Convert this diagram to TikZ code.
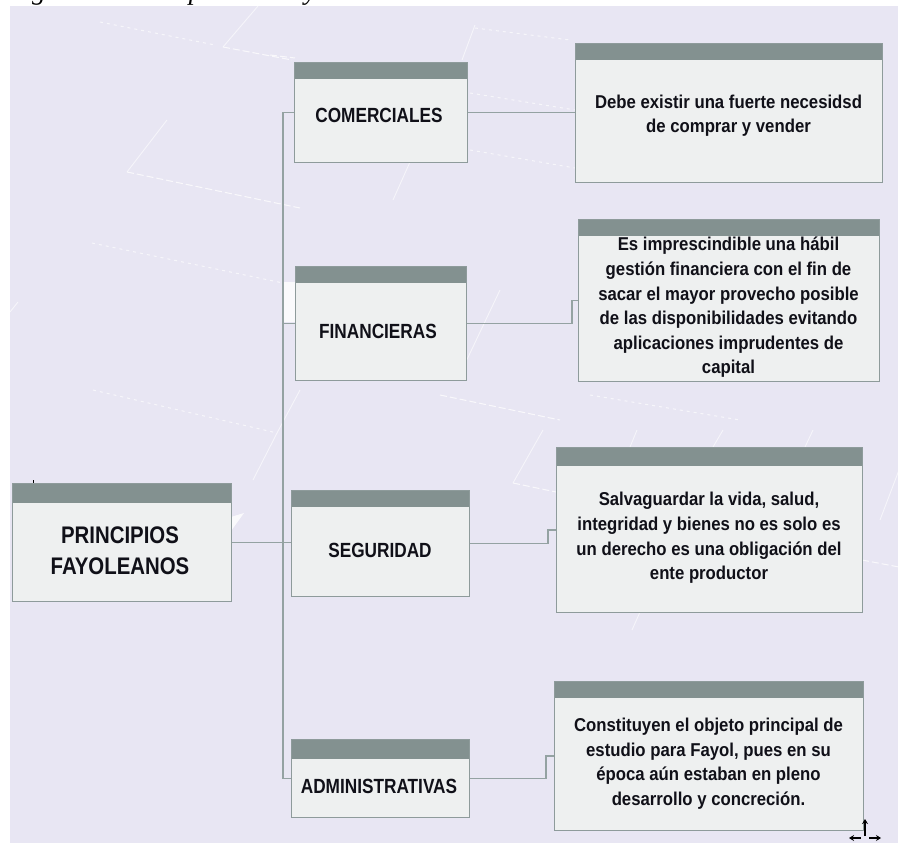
\documentclass[tikz,border=0pt]{standalone}
\usepackage{fontspec}
\setmainfont{Liberation Sans}
\newfontfamily\capfont{Liberation Serif}
\newfontfamily\tallfont{Liberation Sans}[FakeStretch=0.84]
\newfontfamily\titlefont{Liberation Sans}[FakeStretch=0.85]
\newfontfamily\notefont{Liberation Sans}[FakeStretch=0.9]
\usetikzlibrary{calc,arrows.meta}

\definecolor{bgcol}{HTML}{E8E6F3}
\definecolor{bodycol}{HTML}{EEF0F0}
\definecolor{edgecol}{HTML}{8E9B9B}
\definecolor{hdrcol}{HTML}{839190}
\definecolor{linkcol}{HTML}{94A2A2}
\definecolor{inkcol}{HTML}{101018}

\begin{document}
\begin{tikzpicture}[x=1pt,y=-1pt,
  card/.style={rectangle, draw=edgecol, line width=1.4pt, fill=bodycol,
    inner sep=0pt, anchor=north west,
    path picture={\fill[hdrcol] (path picture bounding box.north west)
      rectangle ([yshift=-#1]path picture bounding box.north east);}},
  card/.default=16pt,
  lbl/.style={font=\tallfont\bfseries\fontsize{20.5}{24}\selectfont, text=inkcol, inner sep=0pt},
  bigl/.style={font=\titlefont\bfseries\fontsize{24}{31}\selectfont, text=inkcol, align=center, inner sep=0pt},
  desc/.style={font=\notefont\bfseries\fontsize{18.6}{24.6}\selectfont, text=inkcol, align=center, inner sep=0pt},
  link/.style={draw=linkcol, line width=1.5pt},
  bgdash/.style={white, line width=1pt, opacity=.75, dash pattern=on 7pt off 3pt},
  bgdot/.style={white, line width=1pt, opacity=.65, dash pattern=on 3pt off 4pt},
  bgline/.style={white, line width=.9pt, opacity=.6},
  cursor/.style={-{Stealth[length=5pt,width=6pt]}, line width=1.6pt, black}
]
\useasboundingbox (0,0) rectangle (899,843);

% page and tinted panel
\fill[white] (0,0) rectangle (899,843);
\fill[bgcol] (10,6) rectangle (898,843);

% faint perspective pattern on the panel
\draw[bgline] (258,6) -- (223,47);
\draw[bgdash] (223,47) -- (292,60);
\draw[bgdot] (100,22) -- (215,45);
\draw[bgline] (167,120) -- (127,172);
\draw[bgdash] (127,172) -- (300,208);
\draw[bgdot] (92,243) -- (283,283);
\draw[bgdot] (93,390) -- (277,433);
\draw[bgline] (300,390) -- (277,433) -- (253,480);
\draw[bgline] (10,312) -- (18,302);
\draw[bgdash] (270,55) -- (295,58);
\draw[bgdot] (470,93) -- (575,110);
\draw[bgdot] (470,150) -- (575,168);
\draw[bgline] (410,162) -- (393,200);
\draw[bgline] (475,25) -- (462,60);
\draw[bgdot] (475,28) -- (570,40);
\draw[bgline] (543,430) -- (513,483);
\draw[bgdash] (513,483) -- (556,492);
\draw[bgline] (637,430) -- (630,447);
\draw[bgline] (723,430) -- (713,447);
\draw[bgline] (813,430) -- (805,447);
\draw[bgdash] (862,560) -- (899,567);
\draw[bgline] (899,470) -- (880,520);
\draw[bgline] (640,612) -- (632,630);
\draw[bgline] (500,290) -- (462,370);
\draw[bgdash] (440,395) -- (560,420);
\draw[bgdot] (590,395) -- (740,420);
\fill[white, opacity=.8] (283,282) rectangle (295,322);
\fill[white, opacity=.8] (231,531) -- (244,513) -- (231,517) -- cycle;
\fill[black] (32.5,480) rectangle (34,483);

% caption line, cut by the top edge
\begin{scope}
  \clip (0,0) rectangle (899,843);
  \node[anchor=base west, inner sep=0pt,
    font=\capfont\itshape\fontsize{27.4}{30}\selectfont] (cap) at (7.6,0)
    {Figura 1. Principios de Fayol};
\end{scope}

% cards
\node[card=19pt, minimum width=219pt, minimum height=118pt] (prin) at (12,483) {};
\node[card, minimum width=173pt, minimum height=100pt] (com) at (294,62) {};
\node[card, minimum width=171pt, minimum height=114pt] (fin) at (295,266) {};
\node[card, minimum width=178pt, minimum height=106pt] (seg) at (291,490) {};
\node[card=19pt, minimum width=178pt, minimum height=78pt] (adm) at (291,739) {};
\node[card, minimum width=307pt, minimum height=139pt] (debe) at (575,43) {};
\node[card, minimum width=301pt, minimum height=162pt] (imp) at (578,219) {};
\node[card=18pt, minimum width=306pt, minimum height=165pt] (salv) at (556,447) {};
\node[card, minimum width=309pt, minimum height=149pt] (cons) at (554,681) {};

% connectors
\coordinate (trunk) at (283,0);
\draw[link] (com.west) -- (com.west -| trunk) -- (adm.west -| trunk) -- (adm.west);
\draw[link] (fin.west -| trunk) -- (fin.west);
\draw[link] (prin.east) -- (prin.east -| seg.west);
\draw[link] (com.east) -- (com.east -| debe.west);
\draw[link] (fin.east) -| ($(imp.west)+(-6,0)$) -- (imp.west);
\draw[link] (seg.east) -| ($(salv.west)+(-8,0)$) -- (salv.west);
\draw[link] (adm.east) -| ($(cons.west)+(-8,0)$) -- (cons.west);

% labels
\node[bigl] (prinT) at (120,551) {PRINCIPIOS\\FAYOLEANOS};
\node[lbl] (comT) at (379,115) {COMERCIALES};
\node[lbl] (finT) at (378,331) {FINANCIERAS};
\node[lbl] (segT) at (380,550) {SEGURIDAD};
\node[lbl] (admT) at (379,786) {ADMINISTRATIVAS};

\node[desc] (debeT) at (728.5,115.5) {Debe existir una fuerte necesidsd\\de comprar y vender};
\node[desc] (impT) at (728.5,307.5) {Es imprescindible una hábil\\gestión financiera con el fin de\\sacar el mayor provecho posible\\de las disponibilidades evitando\\aplicaciones imprudentes de\\capital};
\node[desc] (salvT) at (709,538) {Salvaguardar la vida, salud,\\integridad y bienes no es solo es\\un derecho es una obligación del\\ente productor};
\node[desc] (consT) at (708.5,763.5) {Constituyen el objeto principal de\\estudio para Fayol, pues en su\\época aún estaban en pleno\\desarrollo y concreción.};

% move cursor at the lower right corner
\draw[cursor] (865,836) -- (865,819);
\draw[cursor] (861,838) -- (849,838);
\draw[cursor] (869,838) -- (881,838);
\end{tikzpicture}
\end{document}
